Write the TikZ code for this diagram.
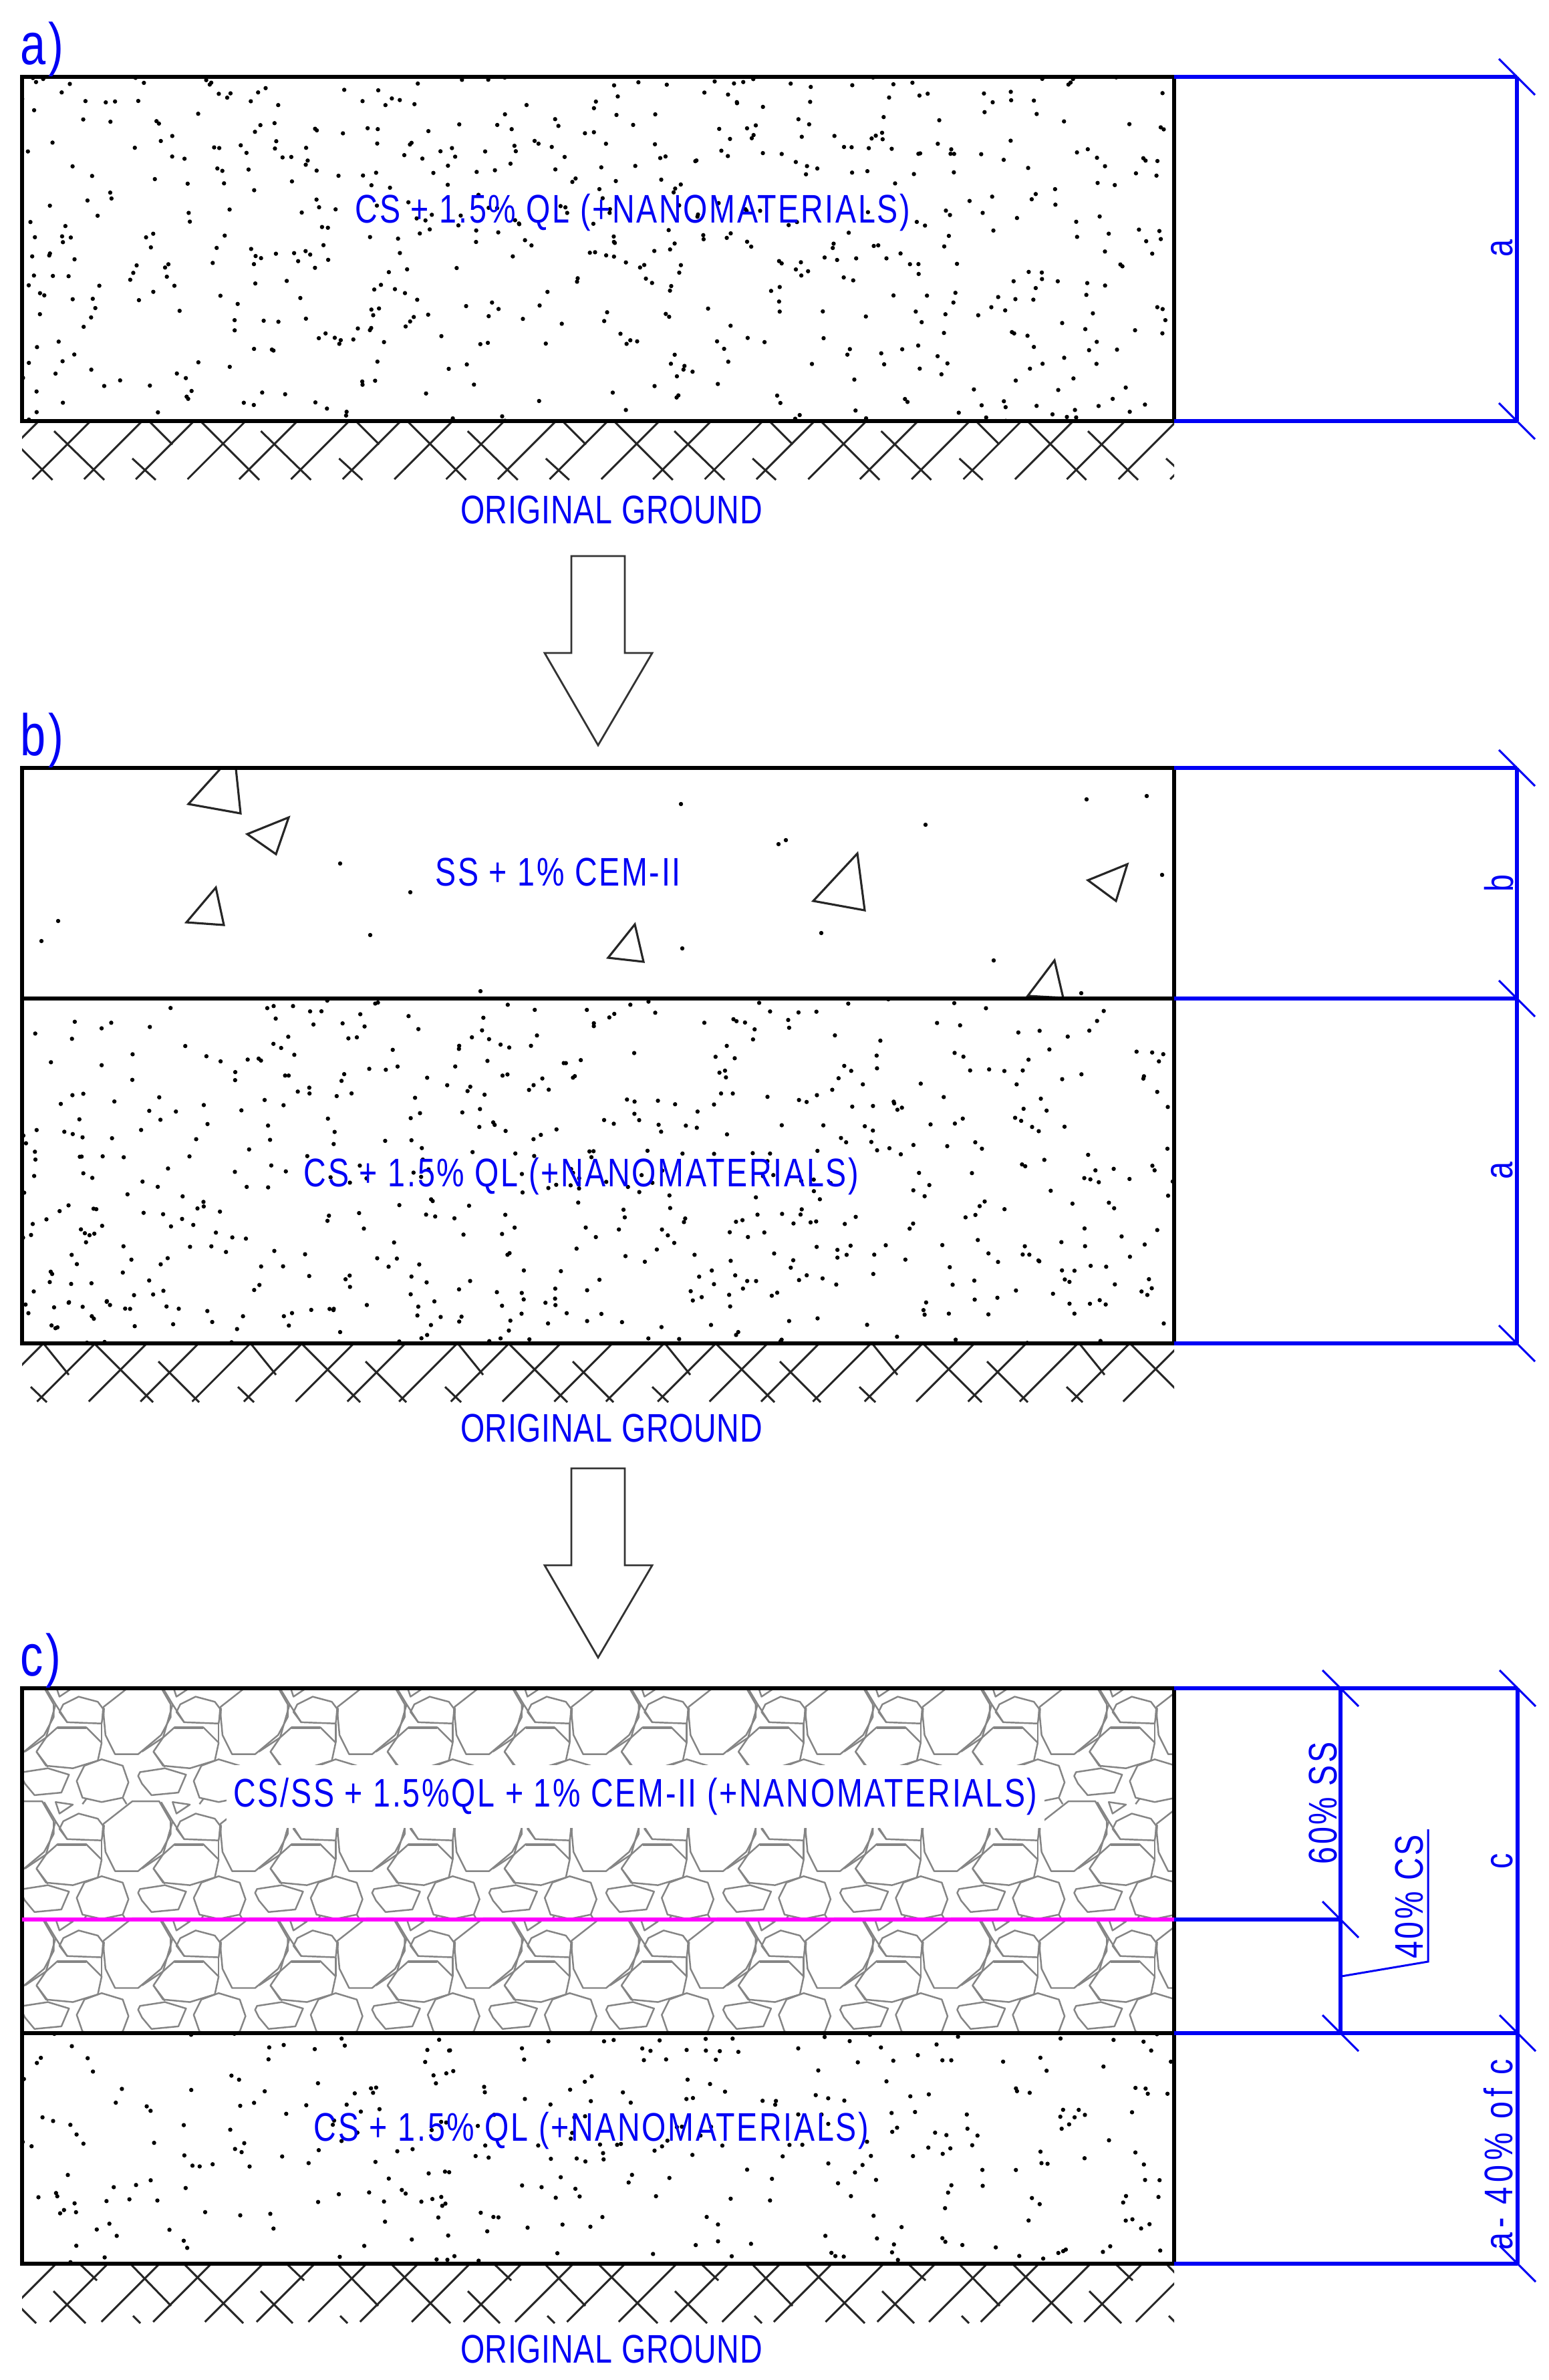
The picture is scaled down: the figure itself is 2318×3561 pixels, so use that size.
\documentclass[tikz,border=0pt]{standalone}
\usepackage{fontspec}
\setmainfont[FakeStretch=0.78]{Liberation Sans}
\definecolor{dimblue}{RGB}{0,0,245}
\definecolor{mag}{RGB}{255,0,255}
\tikzset{
  lbl/.style={text=dimblue,inner sep=0pt,font=\fontsize{34}{40}\selectfont\addfontfeature{LetterSpace=4.5}},
  gnd/.style={text=dimblue,inner sep=0pt,font=\fontsize{34}{40}\selectfont\addfontfeature{LetterSpace=1.2}},
  head/.style={text=dimblue,inner sep=0pt,anchor=base west,font=\fontsize{50}{60}\selectfont\addfontfeature{LetterSpace=5}},
  rlbl/.style={lbl,rotate=90,anchor=base},
  dim/.style={draw=dimblue,line width=3pt},
  layer/.style={draw=black,line width=3.1pt},
  hatchln/.style={draw=black!85,line width=1.7pt},
  stone/.style={draw=black!48,line width=1.4pt,line join=round},
  tri/.style={draw=black!85,line width=1.8pt,line join=miter},
  bigarrow/.style={draw=black!80,line width=1.6pt,line join=miter,fill=white},
}
\newcommand{\slashes}[3]{%
  \foreach \k in {-1,...,24}{\draw[hatchln] ({#3+77.4*\k},#1) -- ++(-87,87);}}
\newcommand{\dotfield}[6]{%
  \pgfmathsetseed{#1}%
  \foreach \n in {1,...,#2}{\pgfmathsetmacro{\dx}{#3+#5*rnd}\pgfmathsetmacro{\dy}{#4+#6*rnd}\fill[black] (\dx,\dy) circle[radius=3.2];}}
\begin{document}
\begin{tikzpicture}[x=0.02cm,y=-0.02cm]
\useasboundingbox[fill=white] (0,0) rectangle (2318,3561);

% ---------- named points ----------
\coordinate (Al) at (33,115);   \coordinate (Ar) at (1757,115);
\coordinate (Bl) at (33,630);   \coordinate (Br) at (1757,630);
\coordinate (Cl) at (33,1149);  \coordinate (Cr) at (1757,1149);
\coordinate (Dl) at (33,1494);  \coordinate (Dr) at (1757,1494);
\coordinate (El) at (33,2010);  \coordinate (Er) at (1757,2010);
\coordinate (Fl) at (33,2526);  \coordinate (Fr) at (1757,2526);
\coordinate (Gl) at (33,2872);  \coordinate (Gr) at (1757,2872);
\coordinate (Hl) at (33,3042);  \coordinate (Hr) at (1757,3042);
\coordinate (Il) at (33,3387);  \coordinate (Ir) at (1757,3387);
\coordinate (dA) at (2270,115); \coordinate (dB) at (2270,630);
\coordinate (dC) at (2270,1149);\coordinate (dD) at (2270,1494);\coordinate (dE) at (2270,2010);
\coordinate (dF) at (2271,2526);\coordinate (dH) at (2271,3042);\coordinate (dI) at (2271,3387);
\coordinate (mF) at (2006,2526);\coordinate (mG) at (2006,2872);\coordinate (mH) at (2006,3042);
\coordinate (lead0) at (2007,2957);\coordinate (lead1) at (2137,2935);\coordinate (lead2) at (2137,2737);

% ---------- dots ----------
\begin{scope}
\clip (33,115) rectangle (1757,630);
\dotfield{11}{620}{33}{115}{1724}{515}
\end{scope}
\begin{scope}
\clip (33,1494) rectangle (1757,2010);
\dotfield{23}{620}{33}{1494}{1724}{516}
\end{scope}
\begin{scope}
\clip (33,3042) rectangle (1757,3387);
\dotfield{37}{340}{33}{3042}{1724}{345}
\end{scope}
\foreach \p/\q in {509/1292,614/1335,554/1399,87/1378,62/1408,719/1483,1019/1203,1626/1196,1716/1191,1385/1234,1176/1257,1165/1263,1739/1309,1229/1396,1021/1419,1487/1437,1618/1486}
  \fill[black] (\p,\q) circle[radius=3.2];

% ---------- triangles ----------
\draw[tri] (330,1150) -- (282,1203) -- (360,1217) -- (353,1150);
\draw[tri] (432,1223) -- (413,1278) -- (370,1248) -- cycle;
\draw[tri] (323,1328) -- (335,1384) -- (279,1380) -- cycle;
\draw[tri] (950,1383) -- (963,1439) -- (910,1433) -- cycle;
\draw[tri] (1283,1277) -- (1294,1362) -- (1217,1348) -- cycle;
\draw[tri] (1687,1293) -- (1670,1348) -- (1628,1317) -- cycle;
\draw[tri] (1578,1437) -- (1591,1493) -- (1538,1490) -- cycle;

% ---------- stone layer ----------
\begin{scope}
\clip (33,2526) rectangle (1757,3042);
\foreach \i in {-1,...,10}{\foreach \j in {-1,0,1}{
\begin{scope}[shift={({\i*175.1},{2480+\j*174.9})},xscale=0.574,yscale=0.3827]
 \draw[stone] (345,562)--(415,562)--(445,640)--(445,690)--(420,760)--(360,835)--(300,835)--(275,760)--(270,680)--(270,650)--cycle;
 \draw[stone] (205,610)--(255,630)--(270,660)--(265,715)--(175,710)--(155,670)--(165,640)--cycle;
 \draw[stone] (150,730)--(225,730)--(265,790)--(255,860)--(190,890)--(120,880)--(95,825)--(120,770)--cycle;
 \draw[stone,line width=2.4pt] (150,732)--(225,732);
 \draw[stone,line width=2.2pt] (270,655)--(268,700);
 \draw[stone] (265,855)--(320,880)--(335,945)--(320,1005)--(265,1022)--(215,1005)--(200,940)--(220,880)--cycle;
 \draw[stone] (365,905)--(430,890)--(485,915)--(465,985)--(395,995)--(370,950)--(360,920)--cycle;
 \draw[stone] (145,565)--(190,575)--(155,610)--cycle;
 \draw[stone] (115,565)--(145,640)--(175,710);
 \draw[stone] (145,640)--(120,770)--(65,825);
 \draw[stone] (95,825)--(125,885);
 \draw[stone] (265,715)--(265,790);
 \draw[stone] (225,1010)--(215,1030);\draw[stone] (320,1005)--(330,1030);
\end{scope}}}
\end{scope}

% ---------- ground hatches ----------
\begin{scope}
\clip (33,630) rectangle (1757,718);
\slashes{630}{718}{58}
\foreach \k in {-1,...,6}{
 \begin{scope}[shift={({\k*309.4},0)}]
 \draw[hatchln] (81,645)--(156,718);
 \draw[hatchln] (223,630)--(258,665);
 \draw[hatchln] (300,630)--(388,718);
 \draw[hatchln] (198,686)--(233,718);
 \end{scope}}
\end{scope}
\begin{scope}
\clip (33,2010) rectangle (1757,2098);
\slashes{2010}{2098}{65}
\foreach \k in {-1,...,6}{
 \begin{scope}[shift={({\k*310},0)}]
 \draw[hatchln] (141,2010)--(229,2098);
 \draw[hatchln] (65,2010)--(103,2057);
 \draw[hatchln] (237,2037)--(298,2098);
 \draw[hatchln] (46,2075)--(70,2098);
 \end{scope}}
\end{scope}
\begin{scope}
\clip (33,3387) rectangle (1757,3476);
\slashes{3387}{3476}{84}
\foreach \k in {-1,...,6}{
 \begin{scope}[shift={({\k*310},0)}]
 \draw[hatchln] (119,3387)--(145,3412);
 \draw[hatchln] (195,3387)--(256,3450);
 \draw[hatchln] (275,3387)--(364,3476);
 \draw[hatchln] (80,3428)--(128,3476);
 \draw[hatchln] (199,3465)--(210,3476);
 \end{scope}}
\end{scope}

% ---------- layer outlines ----------
\draw[layer] (Al) rectangle (Br);
\draw[layer] (Cl) rectangle (Er);
\draw[layer] (Dl) -- (Dr);
\draw[layer] (Fl) rectangle (Ir);
\draw[layer] (Hl) -- (Hr);
\draw[draw=mag,line width=3pt] (Gl) -- (Gr);

% ---------- block arrows ----------
\draw[bigarrow] (855,832)--(935,832)--(935,977)--(976,977)--(895,1115)--(815,977)--(855,977)--cycle;
\draw[bigarrow] (855,2197)--(935,2197)--(935,2342)--(976,2342)--(895,2480)--(815,2342)--(855,2342)--cycle;

% ---------- dimensions ----------
\draw[dim] (Ar)--(dA);\draw[dim] (Br)--(dB);\draw[dim] (dA)--(dB);
\draw[dim] (Cr)--(dC);\draw[dim] (Dr)--(dD);\draw[dim] (Er)--(dE);\draw[dim] (dC)--(dE);
\draw[dim] (Fr)--(dF);\draw[dim] (Hr)--(dH);\draw[dim] (Ir)--(dI);\draw[dim] (dF)--(dI);
\draw[dim] (Gr)--(mG);\draw[dim] (mF)--(mH);
\draw[draw=dimblue,line width=1.7pt] (lead0)--(lead1)--(lead2);
\foreach \c in {dA,dB,dC,dD,dE,dF,dH,dI,mF,mG,mH}
  \draw[draw=dimblue,line width=1.7pt] ([shift={(-27,-27)}]\c) -- ([shift={(27,27)}]\c);

% ---------- texts ----------
\node[head] (ta) at (30,96) {a)};
\node[head] (tb) at (30,1130) {b)};
\node[head] (tc) at (30,2507) {c)};
\node[lbl] (t1) at (947,318) {CS + 1.5\% QL (+NANOMATERIALS)};
\node[gnd] (g1) at (915,763) {ORIGINAL GROUND};
\node[lbl] (t2) at (835,1305) {SS + 1\% CEM-II};
\node[lbl] (t3) at (870,1760) {CS + 1.5\% QL (+NANOMATERIALS)};
\node[gnd] (g2) at (915,2137) {ORIGINAL GROUND};
\node[lbl,fill=white,inner xsep=6pt,inner ysep=11pt] (t4) at (951,2688) {CS/SS + 1.5\%QL + 1\% CEM-II (+NANOMATERIALS)};
\node[lbl] (t5) at (885,3188) {CS + 1.5\% QL (+NANOMATERIALS)};
\node[gnd] (g3) at (915,3515) {ORIGINAL GROUND};
\node[rlbl] (ra1) at (2263,372) {a};
\node[rlbl] (rb) at (2264,1322) {b};
\node[rlbl] (ra2) at (2263,1752) {a};
\node[rlbl] (rc) at (2263,2785) {c};
\node[rlbl,font=\fontsize{34}{40}\selectfont\addfontfeature{LetterSpace=6}] (r60) at (2000,2698) {60\% SS};
\node[rlbl,font=\fontsize{34}{40}\selectfont\addfontfeature{LetterSpace=6}] (r40) at (2129,2838) {40\% CS};
\node[rlbl,font=\fontsize{34}{40}\selectfont\addfontfeature{LetterSpace=12}] (rac) at (2263,3224) {a- 40\% of c};
\end{tikzpicture}
\end{document}
